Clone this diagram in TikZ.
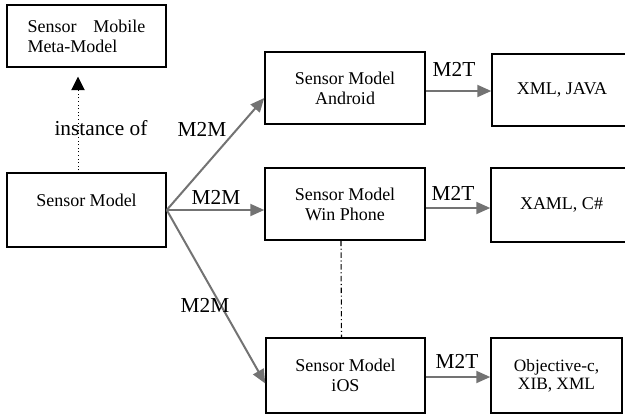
\documentclass[tikz,border=0pt]{standalone}
\usepackage{fontspec}
\setmainfont{Liberation Serif}
\usetikzlibrary{arrows.meta, calc}

\begin{document}
\begin{tikzpicture}[x=0.75pt, y=-0.75pt,
        box/.style={draw=black, line width=1.1pt, inner sep=0pt, align=center, font=\fontsize{13.5}{15}\selectfont},
        trans/.style={draw=black!55, line width=1.5pt, -{Triangle[length=10.5pt, width=9pt]}},
        lbl/.style={inner sep=0pt, font=\fontsize{16}{18}\selectfont}]
        \useasboundingbox (0,0) rectangle (625,414);
        \node[box, minimum width=119.25pt, minimum height=46.5pt, text width=88.5pt, align=left] (meta) at (86.5,36) {Sensor\hfill Mobile\\Meta-Model};
        \node[box, minimum width=119.25pt, minimum height=55.5pt] (sm) at (86.5,210) {Sensor Model\\ \mbox{}};
        %
        \node[box, minimum width=120pt, minimum height=54pt] (and) at (345,88) {Sensor Model\\Android};
        \node[box, minimum width=120pt, minimum height=54pt] (win) at (345,204) {Sensor Model\\Win Phone};
        \node[box, minimum width=119.25pt, minimum height=56.25pt] (ios) at (345.5,375.5) {Sensor Model\\iOS};
        %
        \node[box, minimum width=105pt, minimum height=54pt] (xml) at (562,90) {XML, JAVA};
        \node[box, minimum width=105.75pt, minimum height=55.5pt] (xaml) at (561.5,205) {XAML, C\#};
        \node[box, minimum width=98.25pt, minimum height=56.25pt, font=\fontsize{13}{13.5}\selectfont] (obj) at (556.5,375.5) {Objective-c,\\XIB, XML};
        %
        \draw[line width=0.7pt, dotted, -{Triangle[length=10pt, width=10pt]}] ($(sm.north)+(-8.5,-2)$) -- ($(meta.south)+(-8.5,9)$);
        \node[lbl] (inst) at (101,128) {instance of};
        %
        \draw[trans] (sm.east) -- ($(and.west)+(0,10)$);
        \draw[trans] (sm.east) -- (sm.east -| win.west);
        \draw[trans] (sm.east) -- ($(ios.west)+(0,8)$);
        \node[lbl] (m2m1) at (202,129) {M2M};
        \node[lbl] (m2m2) at (216,197) {M2M};
        \node[lbl] (m2m3) at (205,305) {M2M};
        %
        \draw[trans] ($(and.east)+(0,3)$) -- ($(and.east -| xml.west)+(0,3)$);
        \draw[trans] ($(win.east)+(0,4)$) -- ($(win.east -| xaml.west)+(0,4)$);
        \draw[trans] ($(ios.east)+(0,1.5)$) -- ($(ios.east -| obj.west)+(0,1.5)$);
        \node[lbl] (m2t1) at (454,69) {M2T};
        \node[lbl] (m2t2) at (453,193) {M2T};
        \node[lbl] (m2t3) at (457,361) {M2T};
        %
        \draw[line width=0.8pt, dash pattern=on 4pt off 2pt on 0.8pt off 2pt] ($(win.south)+(-4,0)$) -- ($(ios.north)+(-4,0)$);
\end{tikzpicture}
\end{document}
